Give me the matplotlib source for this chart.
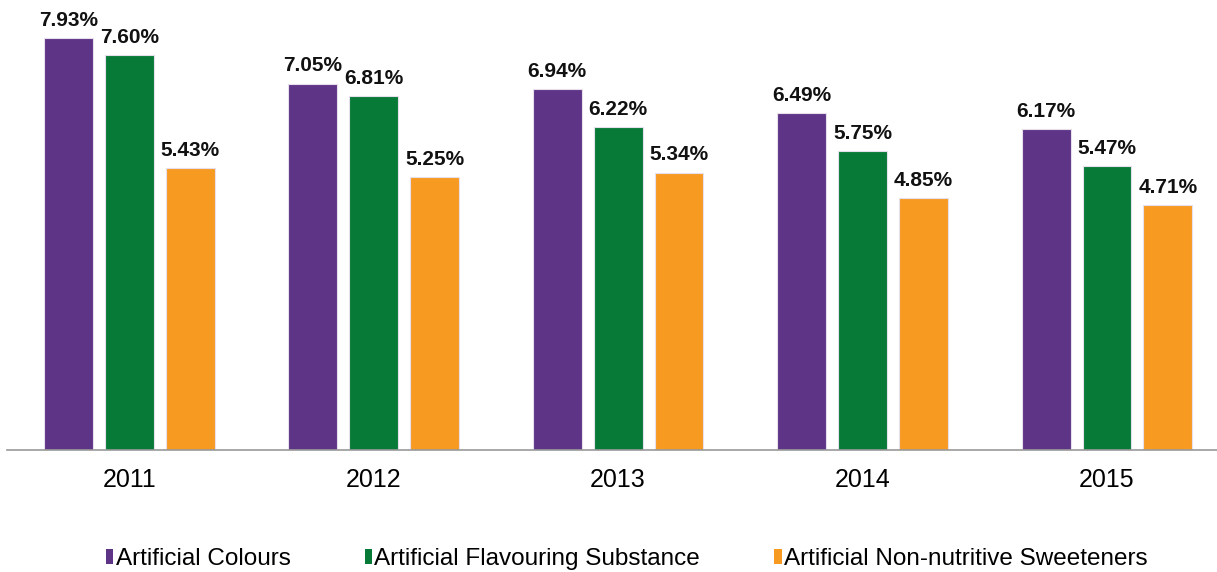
import matplotlib
matplotlib.use("Agg")
import matplotlib.pyplot as plt
from matplotlib.patches import Patch
import numpy as np

plt.rcParams['font.family'] = ['Liberation Sans', 'DejaVu Sans']

years = ["2011", "2012", "2013", "2014", "2015"]
series_names = ["Artificial Colours", "Artificial Flavouring Substance", "Artificial Non-nutritive Sweeteners"]
colours_vals = [7.93, 7.05, 6.94, 6.49, 6.17]
flavour_vals = [7.60, 6.81, 6.22, 5.75, 5.47]
sweet_vals = [5.43, 5.25, 5.34, 4.85, 4.71]
colors = ["#5E3487", "#077A37", "#F79A22"]

W, H = 1217, 572
fig = plt.figure(figsize=(W/100, H/100), dpi=100)
ax = fig.add_axes([7/W, 122/H, (1217-7)/W, 450/H])

x = np.arange(len(years))
bw = 49/245
step = 61/245
for i, (vals, c) in enumerate(zip([colours_vals, flavour_vals, sweet_vals], colors)):
    bars = ax.bar(x + (i-1)*step, vals, width=bw, color=c, edgecolor="#E6E0EC", linewidth=0.8)
    for b, v in zip(bars, vals):
        ax.annotate(f"{v:.2f}%", (b.get_x()+b.get_width()/2, v), xytext=(0, 6),
                    textcoords="offset points", ha="center", va="bottom",
                    fontsize=15, fontweight="bold", color="#111111")

ax.set_xlim(-0.5, 4.45)
ax.set_ylim(0, 450/51.95)
ax.set_xticks(x)
ax.set_xticklabels(years, fontsize=18)
ax.tick_params(axis='x', length=0, pad=13)
ax.set_yticks([])
for s in ["top", "right", "left"]:
    ax.spines[s].set_visible(False)
ax.spines["bottom"].set_color("#999999")
ax.spines["bottom"].set_linewidth(1.2)

handles = [Patch(facecolor=c, edgecolor="none") for c in colors]
fig.legend(handles, series_names, loc="center", bbox_to_anchor=(0.515, 13/H),
           ncol=3, frameon=False, fontsize=17.5, handlelength=0.3, handleheight=0.55,
           handletextpad=0.1, columnspacing=3.05)

fig.savefig("out.png", dpi=100, facecolor="white")
